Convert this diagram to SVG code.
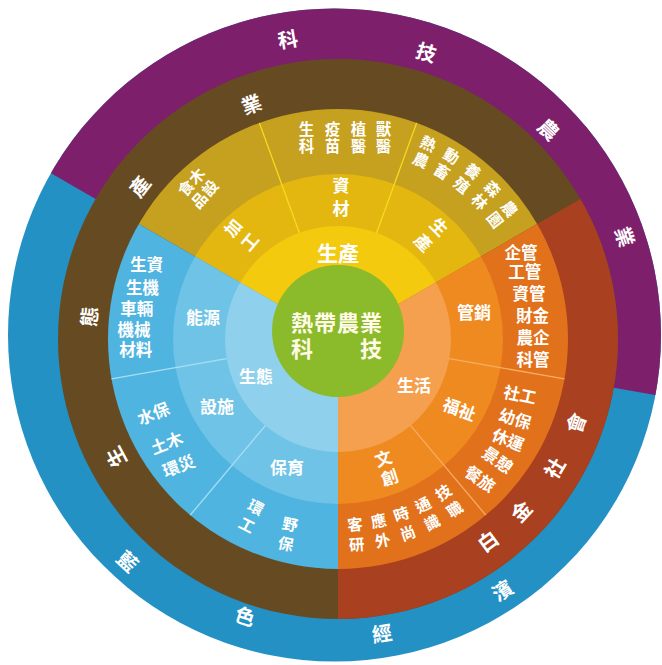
<svg xmlns="http://www.w3.org/2000/svg" width="662" height="665" viewBox="0 0 662 665">
<defs>
<style>
text{font-family:"Liberation Sans","Noto Sans CJK TC","Noto Sans CJK SC",sans-serif;fill:#fff;font-weight:700;text-anchor:middle;dominant-baseline:central}
.v{writing-mode:vertical-rl}
.ring{font-size:20px}
.mid{font-size:21px}
.lbl{font-size:17px}
.seg{font-size:15.5px}
.lst{font-size:16.5px}
.core{font-size:22px;fill:#fffbe6}
.sep{stroke-width:1.3;fill:none}
</style>
<clipPath id="cY"><polygon points="338,339 -354.8,-61 -354.8,-500 1030.8,-500 1030.8,-61"/></clipPath>
<clipPath id="cO"><polygon points="338,339 1030.8,-61 1030.8,1139 338,1139"/></clipPath>
<clipPath id="cB"><polygon points="338,339 338,1139 -354.8,1139 -354.8,-61"/></clipPath>
<clipPath id="cP"><polygon points="338,339 -354.8,-61 -354.8,-500 1125.8,-500 1125.8,477.9"/></clipPath>
</defs>

<g id="outer-ring">
<circle cx="334.5" cy="335" r="326.5" fill="#2391c4"/>
<circle cx="334.5" cy="335" r="326.5" fill="#7e1f6c" clip-path="url(#cP)"/>
<text class="ring" transform="translate(288,40) rotate(-9.5)">科</text>
<text class="ring" transform="translate(426,53) rotate(17)">技</text>
<text class="ring" transform="translate(548,130) rotate(44)">農</text>
<text class="ring" transform="translate(624,237) rotate(71)">業</text>
<text class="ring" transform="translate(127,562) rotate(43)">藍</text>
<text class="ring" transform="translate(245,617) rotate(18)">色</text>
<text class="ring" transform="translate(382,634) rotate(-9)">經</text>
<text class="ring" transform="translate(502.5,591) rotate(-33)">濱</text>
</g>

<g id="middle-ring">
<circle cx="338" cy="339" r="280" fill="#664b22"/>
<circle cx="338" cy="339" r="280" fill="#a9401f" clip-path="url(#cO)"/>
<text class="ring" transform="translate(116.7,456.7) rotate(-118)">生</text>
<text class="ring" transform="translate(90,316.7) rotate(-85)">態</text>
<text class="ring" transform="translate(140,186.7) rotate(-52.4)">產</text>
<text class="ring" transform="translate(251.7,105) rotate(-20.2)">業</text>
<text class="ring" transform="translate(488.3,541.7) rotate(-36.6)">白</text>
<text class="ring" transform="translate(521.7,511.7) rotate(-46.8)">金</text>
<text class="ring" transform="translate(555,468.3) rotate(-59.2)">社</text>
<text class="ring" transform="translate(576.7,423.3) rotate(-70.5)">會</text>
</g>

<g id="sector-production" clip-path="url(#cY)">
<circle cx="338" cy="339" r="230" fill="#c6a01f"/>
<circle cx="338" cy="339" r="165" fill="#e3b710"/>
<circle cx="338" cy="339" r="113" fill="#f4ca0e"/>
</g>
<g id="sector-life" clip-path="url(#cO)">
<circle cx="338" cy="339" r="230" fill="#e1711b"/>
<circle cx="338" cy="339" r="165" fill="#ef8a21"/>
<circle cx="338" cy="339" r="113" fill="#f4a04e"/>
</g>
<g id="sector-ecology" clip-path="url(#cB)">
<circle cx="338" cy="339" r="230" fill="#4fb4e0"/>
<circle cx="338" cy="339" r="165" fill="#6fc3e7"/>
<circle cx="338" cy="339" r="113" fill="#8fd1ec"/>
</g>

<g id="connectors">
<line class="sep" x1="299.35" y1="232.81" x2="259.34" y2="122.87" stroke="#f7dc1e"/>
<line class="sep" x1="376.65" y1="232.81" x2="416.66" y2="122.87" stroke="#f7dc1e"/>
<line class="sep" x1="449.28" y1="358.62" x2="564.51" y2="378.94" stroke="#f6ad62"/>
<line class="sep" x1="410.64" y1="425.56" x2="485.84" y2="515.19" stroke="#f6ad62"/>
<line class="sep" x1="265.36" y1="425.56" x2="190.16" y2="515.19" stroke="#a8def4"/>
<line class="sep" x1="226.72" y1="358.62" x2="111.49" y2="378.94" stroke="#a8def4"/>
</g>

<g id="core">
<circle cx="338" cy="331" r="66" fill="#8bba2a"/>
<text class="core" x="337" y="323" letter-spacing="1">熱帶農業</text>
<text class="core" x="337" y="349" letter-spacing="1">科　　技</text>
</g>

<g id="node-production">
<text class="mid" x="338" y="253">生產</text>
<g transform="translate(242,238) rotate(-50)"><text class="lbl v" letter-spacing="5">加工</text></g>
<text class="lbl v" x="339" y="200.5" letter-spacing="6">資材</text>
<g transform="translate(428,235) rotate(45)"><text class="lbl v" letter-spacing="5">生產</text></g>
<text class="seg v" x="305" y="138.5" letter-spacing="1.5">生科</text>
<text class="seg v" x="331" y="138.5" letter-spacing="1.5">疫苗</text>
<text class="seg v" x="357" y="138.5" letter-spacing="1.5">植醫</text>
<text class="seg v" x="382" y="138.5" letter-spacing="1.5">獸醫</text>
<g transform="translate(198,190) rotate(-48)"><text class="seg v" x="-8" letter-spacing="2.5">食品</text><text class="seg v" x="8" letter-spacing="2.5">木設</text></g>
<g transform="translate(422.7,152.3) rotate(24.4)"><text class="seg v" letter-spacing="2.5">熱農</text></g>
<g transform="translate(444.8,164) rotate(31.4)"><text class="seg v" letter-spacing="2.5">動畜</text></g>
<g transform="translate(465.3,178.3) rotate(38.4)"><text class="seg v" letter-spacing="2.5">養殖</text></g>
<g transform="translate(484,195) rotate(45.4)"><text class="seg v" letter-spacing="2.5">森林</text></g>
<g transform="translate(500.4,213.9) rotate(52.4)"><text class="seg v" letter-spacing="2.5">農園</text></g>
</g>

<g id="node-life">
<text class="lbl" x="414" y="386">生活</text>
<text class="lbl" x="474" y="313">管銷</text>
<g transform="translate(459,410) rotate(20)"><text class="lbl">福祉</text></g>
<g transform="translate(385,470) rotate(-18)"><text class="lbl v" letter-spacing="3">文創</text></g>
<text class="lst"><tspan x="521" y="252.5">企管</tspan><tspan x="524.7" y="272">工管</tspan><tspan x="529" y="293.5">資管</tspan><tspan x="532.5" y="316">財金</tspan><tspan x="533" y="338">農企</tspan><tspan x="533" y="360">科管</tspan></text>
<g transform="translate(520,395) rotate(12)"><text class="lst">社工</text></g>
<g transform="translate(515,419) rotate(17)"><text class="lst">幼保</text></g>
<g transform="translate(508,440) rotate(22)"><text class="lst">休運</text></g>
<g transform="translate(497.5,460) rotate(35)"><text class="lst">景憩</text></g>
<g transform="translate(480,479) rotate(35)"><text class="lst">餐旅</text></g>
<g transform="translate(354.6,536.8) rotate(-4.8)"><text class="seg v" letter-spacing="4.5">客研</text></g>
<g transform="translate(379.6,533.1) rotate(-12.1)"><text class="seg v" letter-spacing="4.5">應外</text></g>
<g transform="translate(403.9,526.2) rotate(-19.4)"><text class="seg v" letter-spacing="4.5">時尚</text></g>
<g transform="translate(427.2,516.3) rotate(-26.7)"><text class="seg v" letter-spacing="4.5">通識</text></g>
<g transform="translate(449,503.6) rotate(-34)"><text class="seg v" letter-spacing="4.5">技職</text></g>
</g>

<g id="node-ecology">
<text class="lbl" x="256" y="377">生態</text>
<text class="lbl" x="203" y="318">能源</text>
<text class="lbl" x="217" y="407">設施</text>
<text class="lbl" x="287" y="468">保育</text>
<text class="lst"><tspan x="146.7" y="265">生資</tspan><tspan x="142.5" y="288">生機</tspan><tspan x="136.7" y="309">車輛</tspan><tspan x="134" y="330">機械</tspan><tspan x="135.8" y="350">材料</tspan></text>
<g transform="translate(166,441) rotate(-21)"><text class="lst"><tspan x="-2" y="-30">水保</tspan><tspan x="0" y="2.4">土木</tspan><tspan x="3" y="28">環災</tspan></text></g>
<g transform="translate(249,517.5) rotate(27)"><text class="seg v" letter-spacing="4.5">環工</text></g>
<g transform="translate(286,536) rotate(12)"><text class="seg v" letter-spacing="4.5">野保</text></g>
</g>
</svg>
